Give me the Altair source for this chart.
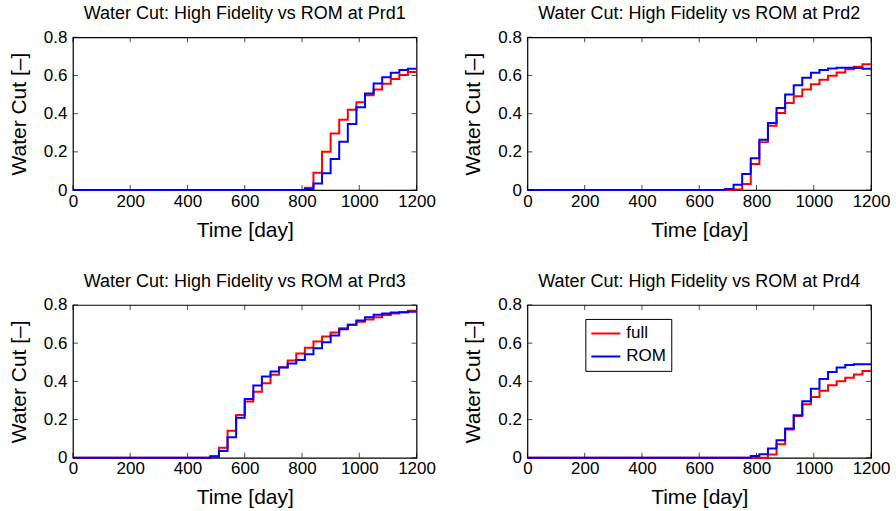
import altair as alt
import pandas as pd

# ---------------- data ----------------
TIMES = list(range(0, 1201, 30))          # report times [day]

PRD1_FULL = [0.0] * 27 + [0.012, 0.091, 0.200, 0.296, 0.368, 0.420, 0.460, 0.496, 0.526, 0.556, 0.582, 0.603, 0.618, 0.618]
PRD1_ROM  = [0.0] * 27 + [0.005, 0.035, 0.088, 0.163, 0.253, 0.346, 0.433, 0.505, 0.558, 0.591, 0.614, 0.628, 0.635, 0.635]

PRD2_FULL = [0.0] * 24 + [0.003, 0.032, 0.137, 0.251, 0.337, 0.404, 0.456, 0.491, 0.526, 0.554, 0.577, 0.598, 0.616, 0.632, 0.646, 0.658, 0.658]
PRD2_ROM  = [0.0] * 23 + [0.006, 0.028, 0.084, 0.167, 0.263, 0.351, 0.430, 0.500, 0.549, 0.588, 0.614, 0.628, 0.637, 0.640, 0.640, 0.639, 0.635, 0.635]

PRD3_FULL = [0.0] * 16 + [0.009, 0.052, 0.142, 0.224, 0.294, 0.346, 0.390, 0.434, 0.474, 0.509, 0.546, 0.576, 0.609, 0.635, 0.656, 0.678, 0.696, 0.712, 0.724, 0.736, 0.747, 0.755, 0.762, 0.770, 0.770]
PRD3_ROM  = [0.0] * 16 + [0.005, 0.035, 0.107, 0.210, 0.308, 0.378, 0.425, 0.451, 0.472, 0.493, 0.512, 0.542, 0.573, 0.605, 0.640, 0.673, 0.696, 0.719, 0.736, 0.749, 0.755, 0.761, 0.762, 0.764, 0.764]

PRD4_FULL = [0.0] * 28 + [0.017, 0.071, 0.148, 0.219, 0.280, 0.318, 0.351, 0.379, 0.400, 0.419, 0.436, 0.454, 0.454]
PRD4_ROM  = [0.0] * 26 + [0.009, 0.019, 0.048, 0.092, 0.153, 0.223, 0.296, 0.361, 0.413, 0.449, 0.473, 0.485, 0.490, 0.489, 0.489]

WELLS = ["Prd1", "Prd2", "Prd3", "Prd4"]
FULL = [PRD1_FULL, PRD2_FULL, PRD3_FULL, PRD4_FULL]
ROM = [PRD1_ROM, PRD2_ROM, PRD3_ROM, PRD4_ROM]
SERIES = ["full", "ROM"]
COLORS = ["#ff0000", "#0000ff"]

X_TICKS = [0, 200, 400, 600, 800, 1000, 1200]
Y_TICKS = [0, 0.2, 0.4, 0.6, 0.8]

W, H = 344, 153
FONT = "Liberation Sans"

X_SCALE = alt.Scale(domain=[0, 1200], nice=False, zero=False)
Y_SCALE = alt.Scale(domain=[0, 0.8], nice=False)
X_AXIS = alt.Axis(values=X_TICKS, title="Time [day]", format="d", labelOverlap=False)
Y_AXIS = alt.Axis(values=Y_TICKS, title="Water Cut [–]",
                  labelExpr="datum.value == 0 ? '0' : format(datum.value, '.1f')",
                  labelOverlap=False)


def panel(well, full, rom, show_legend):
    df = pd.DataFrame({
        "t": TIMES * 2,
        "wc": full + rom,
        "series": ["full"] * len(TIMES) + ["ROM"] * len(TIMES),
    })
    x = alt.X("t:Q", scale=X_SCALE, axis=X_AXIS)
    y = alt.Y("wc:Q", scale=Y_SCALE, axis=Y_AXIS)
    if show_legend:
        legend = alt.Legend(title=None, orient="none", legendX=58, legendY=14,
                            strokeColor="black", fillColor="white", padding=5,
                            symbolType="stroke", symbolSize=841, symbolStrokeWidth=2,
                            clipHeight=19,
                            labelFontSize=17, labelFont=FONT, labelColor="black",
                            rowPadding=4, labelOffset=5, cornerRadius=0)
    else:
        legend = None
    color = alt.Color("series:N", scale=alt.Scale(domain=SERIES, range=COLORS), legend=legend)

    lines = alt.Chart(df).mark_line(interpolate="step-after", strokeWidth=2).encode(
        x=x, y=y, color=color)

    xt = pd.DataFrame({"t": X_TICKS})
    yt = pd.DataFrame({"wc": Y_TICKS})
    tick = dict(color="black", thickness=1, size=5)
    bot = alt.Chart(xt).mark_tick(orient="vertical", **tick).encode(
        x=x, y=alt.value(H - 2.5))
    top = alt.Chart(xt).mark_tick(orient="vertical", **tick).encode(
        x=x, y=alt.value(2.5))
    lft = alt.Chart(yt).mark_tick(orient="horizontal", **tick).encode(
        y=y, x=alt.value(2.5))
    rgt = alt.Chart(yt).mark_tick(orient="horizontal", **tick).encode(
        y=y, x=alt.value(W - 2.5))

    return alt.layer(lines, bot, top, lft, rgt).properties(
        width=W, height=H,
        title=alt.TitleParams(f"Water Cut: High Fidelity vs ROM at {well}"))


panels = [panel(WELLS[i], FULL[i], ROM[i], i == 3) for i in range(4)]

row1 = alt.hconcat(panels[0], panels[1], spacing=25).resolve_scale(color="independent")
row2 = alt.hconcat(panels[2], panels[3], spacing=25).resolve_scale(color="independent")

chart = alt.vconcat(row1, row2, spacing=31).resolve_scale(color="independent").properties(
    padding={"left": 7, "top": 4, "right": 5, "bottom": 5},
    background="white",
).configure_view(
    stroke="black", strokeWidth=1.2
).configure_axis(
    ticks=False, domain=False, grid=False,
    labelFont=FONT, labelFontSize=17, labelColor="black",
    titleFont=FONT, titleFontSize=21, titleColor="black", titleFontWeight="normal",
    labelOverlap=False, labelBound=False, labelFlush=False,
).configure_axisX(
    labelPadding=3, titlePadding=10,
).configure_axisY(
    labelPadding=6, titlePadding=14,
).configure_title(
    font=FONT, fontSize=18, fontWeight="normal", color="black", offset=5, anchor="middle",
)

chart.save("out.html", embed_options={"renderer": "svg", "actions": False})
